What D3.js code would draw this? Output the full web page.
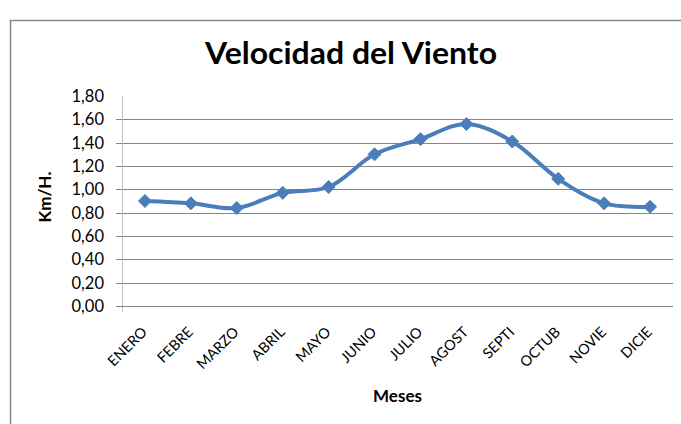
<!DOCTYPE html>
<html><head><meta charset="utf-8">
<script src="https://cdn.jsdelivr.net/npm/d3@7"></script>
<style>
html,body{margin:0;padding:0;background:#fff;overflow:hidden;}
svg{display:block;font-family:Lato,"Open Sans",sans-serif;}
</style></head>
<body>
<svg id="chart" width="681" height="424"></svg>
<script>
const months = ["ENERO","FEBRE","MARZO","ABRIL","MAYO","JUNIO","JULIO","AGOST","SEPTI","OCTUB","NOVIE","DICIE"];
const speeds = [0.90,0.88,0.84,0.97,1.02,1.30,1.43,1.56,1.41,1.09,0.88,0.85];
const yTicks = [0,0.2,0.4,0.6,0.8,1.0,1.2,1.4,1.6,1.8];
const title = "Velocidad del Viento";
const xTitle = "Meses";
const yTitle = "Km/H.";

const svg = d3.select("#chart");
const W = 681, H = 424;
const pLeft = 122, pRight = 673, pTop = 96, pBottom = 306;

// outer border
svg.append("rect").attr("x",10.5).attr("y",20.5).attr("width",W+20).attr("height",H+20)
  .attr("fill","#fff").attr("stroke","#868686").attr("stroke-width",1.5);

const x = d3.scaleBand().domain(months).range([pLeft,pRight]);
const y = d3.scaleLinear().domain([0,1.8]).range([pBottom,pTop]);

// gridlines (no top one)
svg.append("g").selectAll("line").data(yTicks.filter(d=>d>0 && d<1.8)).join("line")
  .attr("x1",pLeft-6).attr("x2",pRight).attr("y1",d=>Math.round(y(d))+0.5).attr("y2",d=>Math.round(y(d))+0.5)
  .attr("stroke","#868686").attr("stroke-width",1);

// y axis line
svg.append("line").attr("x1",pLeft+0.5).attr("x2",pLeft+0.5).attr("y1",pTop).attr("y2",pBottom+6)
  .attr("stroke","#c0c0c0").attr("stroke-width",1);
// x axis line
svg.append("line").attr("x1",pLeft-6).attr("x2",pRight).attr("y1",Math.round(y(0))+0.5).attr("y2",Math.round(y(0))+0.5)
  .attr("stroke","#868686").attr("stroke-width",1);

// y tick labels
const fmt = d => d3.format(".2f")(d).replace(".",",");
svg.append("g").selectAll("text").data(yTicks).join("text")
  .attr("x",104).attr("y",d=>y(d)).attr("dy","0.36em")
  .attr("text-anchor","end").attr("font-size",16.5).attr("fill","#000")
  .text(fmt);

// x tick labels
svg.append("g").selectAll("text").data(months).join("text")
  .attr("transform",d=>`translate(${x(d)+x.bandwidth()/2+3},${pBottom+27}) rotate(-45)`)
  .attr("text-anchor","end").attr("font-size",14.5).attr("fill","#000")
  .text(d=>d);

// title
svg.append("text").attr("x",351).attr("y",64).attr("text-anchor","middle")
  .attr("font-size",31).attr("font-weight","bold").attr("fill","#000")
  .attr("textLength",292).attr("lengthAdjust","spacingAndGlyphs")
  .text(title);

// axis titles
svg.append("text").attr("x",(pLeft+pRight)/2).attr("y",402).attr("text-anchor","middle")
  .attr("font-size",17).attr("font-weight","bold").attr("fill","#000").text(xTitle);
svg.append("text").attr("transform",`translate(51,197) rotate(-90)`).attr("text-anchor","middle")
  .attr("font-size",17).attr("font-weight","bold").attr("fill","#000").text(yTitle);

// line
const pts = months.map((m,i)=>[x(m)+x.bandwidth()/2, y(speeds[i])]);
svg.append("path").attr("d",d3.line().curve(d3.curveCatmullRom.alpha(0.5))(pts))
  .attr("fill","none").attr("stroke","#4a7ebb").attr("stroke-width",4).attr("stroke-linejoin","round");

// markers
svg.append("g").selectAll("path").data(pts).join("path")
  .attr("transform",d=>`translate(${d[0]},${d[1]})`)
  .attr("d","M0,-6.5L6.5,0L0,6.5L-6.5,0Z")
  .attr("fill","#4a7ebb").attr("stroke","#4a7ebb").attr("stroke-width",1);
</script>
</body></html>
